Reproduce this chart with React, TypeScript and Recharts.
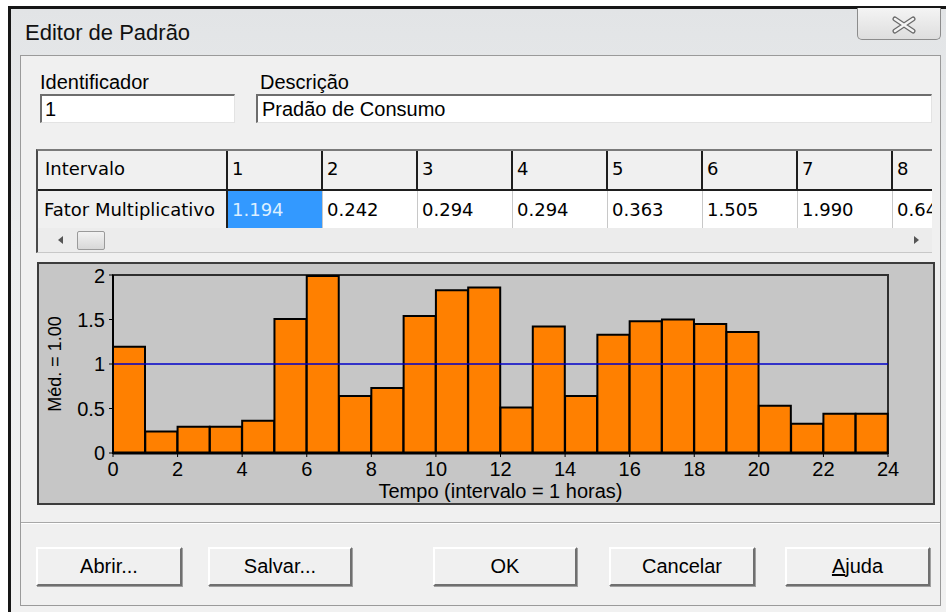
import React from "react";
import { ComposedChart, Bar, XAxis, YAxis, ReferenceLine, ReferenceArea } from "recharts";

// Padrão de consumo - fator por intervalo de 1 hora
const intervalos = ["1", "2", "3", "4", "5", "6", "7", "8", "9", "10", "11", "12",
  "13", "14", "15", "16", "17", "18", "19", "20", "21", "22", "23", "24"];
const fatores = [1.194, 0.242, 0.294, 0.294, 0.363, 1.505, 1.990, 0.640, 0.730, 1.540, 1.830, 1.860,
  0.510, 1.420, 0.640, 1.330, 1.480, 1.500, 1.450, 1.360, 0.530, 0.330, 0.440, 0.440];
const media = 1.0;
const ticksTempo = [0, 2, 4, 6, 8, 10, 12, 14, 16, 18, 20, 22, 24];
const ticksFator = [0, 0.5, 1, 1.5, 2];
const botoes = ["Abrir...", "Salvar...", "OK", "Cancelar", "Ajuda"];

const dados = intervalos.map((intervalo, i) => ({ intervalo, hora: Number(intervalo), fator: fatores[i] }));

const fonte = "'Liberation Sans', Arial, sans-serif";
const fonteTabela = "'DejaVu Sans', Verdana, sans-serif";

// rotulo vertical do eixo Y
const RotuloY = (props: any) => {
  const vb = props.viewBox || { x: 0, y: 0, width: 0, height: 0 };
  const x = vb.x + 16;
  const y = vb.y + vb.height / 2;
  return (
    <text x={x} y={y} transform={`rotate(-90, ${x}, ${y})`} textAnchor="middle"
      dominantBaseline="central" fontSize={18} fill="#000">
      {"Méd. = " + media.toFixed(2)}
    </text>
  );
};

const Botao: React.FC<{ texto: string; left: number; width: number }> = ({ texto, left, width }) => (
  <div style={{
    position: "absolute", left, top: 547, width, height: 39, boxSizing: "border-box",
    background: "#f0f0f0", borderTop: "2px solid #fff", borderLeft: "2px solid #fff",
    borderRight: "2px solid #6f6f6f", borderBottom: "2px solid #6f6f6f",
    boxShadow: "1px 1px 0 #a0a0a0", display: "flex", alignItems: "center", justifyContent: "center",
    fontSize: 20, color: "#000",
  }}>
    {texto === "Ajuda" ? <span><u>A</u>juda</span> : texto}
  </div>
);

const posBotoes = [
  { left: 36, width: 146 },
  { left: 208, width: 144 },
  { left: 433, width: 144 },
  { left: 609, width: 146 },
  { left: 785, width: 145 },
];

export default function App() {
  const colunas = intervalos.slice(0, 8);
  return (
    <div style={{ position: "absolute", left: 0, top: 0, width: 946, height: 615, background: "#fff", overflow: "hidden", fontFamily: fonte }}>
      {/* moldura da janela */}
      <div style={{
        position: "absolute", left: 8, top: 6, width: 940, height: 606, boxSizing: "border-box",
        borderTop: "3px solid #161616", borderLeft: "3px solid #161616",
        background: "linear-gradient(180deg, #e2e4e6 0%, #eceeef 40%, #f1f1f1 100%)",
      }} />
      <div style={{ position: "absolute", left: 25, top: 20, fontSize: 22, color: "#111", lineHeight: "26px" }}>Editor de Padrão</div>
      {/* botao fechar */}
      <div style={{
        position: "absolute", left: 857, top: 8, width: 84, height: 32, boxSizing: "border-box",
        border: "1px solid #8c8c8c", borderTop: "none", borderRadius: "0 0 5px 5px",
        background: "linear-gradient(180deg, #f4f4f4, #dedede)",
      }}>
        <svg width={84} height={32} style={{ position: "absolute", left: -1, top: 0 }}>
          <path d="M38 11 L56 23 M56 11 L38 23" stroke="#6a6a6a" strokeWidth={5} strokeLinecap="round" />
          <path d="M38 11 L56 23 M56 11 L38 23" stroke="#f4f4f4" strokeWidth={2.5} strokeLinecap="round" />
        </svg>
      </div>

      {/* painel interno */}
      <div style={{
        position: "absolute", left: 20, top: 55, width: 921, height: 551, boxSizing: "border-box",
        border: "1px solid #9a9a9a", background: "#f0f0f0",
      }} />

      <div style={{ position: "absolute", left: 40, top: 70, fontSize: 20, lineHeight: "24px" }}>Identificador</div>
      <div style={{ position: "absolute", left: 260, top: 70, fontSize: 20, lineHeight: "24px" }}>Descrição</div>
      <div style={{
        position: "absolute", left: 40, top: 94, width: 195, height: 29, boxSizing: "border-box",
        borderTop: "2px solid #6d6d6d", borderLeft: "2px solid #6d6d6d", borderRight: "1px solid #e3e3e3",
        borderBottom: "1px solid #e3e3e3", background: "#fff", fontSize: 20, lineHeight: "26px", paddingLeft: 3,
      }}>1</div>
      <div style={{
        position: "absolute", left: 256, top: 94, width: 676, height: 29, boxSizing: "border-box",
        borderTop: "2px solid #6d6d6d", borderLeft: "2px solid #6d6d6d", borderRight: "1px solid #e3e3e3",
        borderBottom: "1px solid #e3e3e3", background: "#fff", fontSize: 20, lineHeight: "26px", paddingLeft: 4,
      }}>Pradão de Consumo</div>

      {/* grade de valores */}
      <div style={{
        position: "absolute", left: 36, top: 149, width: 896, height: 104, boxSizing: "border-box",
        borderLeft: "2px solid #4a4a4a", borderTop: "2px solid #7a7a7a", borderBottom: "1px solid #c8c8c8",
        background: "#ececec", overflow: "hidden", fontFamily: fonteTabela, fontSize: 18,
      }}>
        <div style={{ display: "flex", height: 40, whiteSpace: "nowrap" }}>
          <div style={{ flex: "0 0 190px", boxSizing: "border-box", borderRight: "2px solid #1e1e1e", borderBottom: "2px solid #1e1e1e", background: "#f0f0f0", paddingLeft: 7, lineHeight: "36px" }}>Intervalo</div>
          {colunas.map((c) => (
            <div key={c} style={{ flex: "0 0 95px", boxSizing: "border-box", borderRight: "2px solid #1e1e1e", borderBottom: "2px solid #1e1e1e", background: "#f0f0f0", paddingLeft: 4, lineHeight: "36px" }}>{c}</div>
          ))}
        </div>
        <div style={{ display: "flex", height: 37, whiteSpace: "nowrap" }}>
          <div style={{ flex: "0 0 190px", boxSizing: "border-box", borderRight: "2px solid #1e1e1e", background: "#f0f0f0", paddingLeft: 6, lineHeight: "37px" }}>Fator Multiplicativo</div>
          {colunas.map((c, i) => (
            <div key={c} style={{
              flex: "0 0 95px", boxSizing: "border-box", borderRight: "1px solid #c8c8c8",
              background: i === 0 ? "#3399ff" : "#fff", color: i === 0 ? "#dcefff" : "#000",
              paddingLeft: 4, lineHeight: "37px", overflow: "hidden",
            }}>{fatores[i].toFixed(3)}</div>
          ))}
        </div>
        {/* barra de rolagem */}
        <div style={{ position: "relative", height: 25 }}>
          <svg width={10} height={10} style={{ position: "absolute", left: 18, top: 7 }}>
            <path d="M7 1 L2 5 L7 9 Z" fill="#555" />
          </svg>
          <div style={{ position: "absolute", left: 39, top: 3, width: 28, height: 19, boxSizing: "border-box", border: "1px solid #9a9a9a", borderRadius: 2, background: "linear-gradient(180deg,#f2f2f2,#d8d8d8)" }} />
          <svg width={10} height={10} style={{ position: "absolute", left: 873, top: 7 }}>
            <path d="M3 1 L8 5 L3 9 Z" fill="#555" />
          </svg>
        </div>
      </div>

      {/* grafico */}
      <div style={{
        position: "absolute", left: 37, top: 262, width: 898, height: 243, boxSizing: "border-box",
        border: "2px solid #3c3c3c", background: "#c6c6c6",
      }}>
        <ComposedChart width={894} height={239} data={dados} barCategoryGap={0}
          margin={{ top: 11, right: 45, left: 0, bottom: 0 }}>
          <XAxis xAxisId="num" dataKey="hora" type="number" domain={[0, 24]} ticks={ticksTempo} allowDataOverflow
            height={50} tickSize={4} tickMargin={5}
            axisLine={{ stroke: "#000", strokeWidth: 3 }} tickLine={{ stroke: "#000" }}
            tick={{ fill: "#000", fontSize: 20 }}
            label={{ value: "Tempo (intervalo = 1 horas)", position: "insideBottom", offset: 5, fill: "#000", fontSize: 20 }} />
          <XAxis xAxisId="cat" dataKey="intervalo" hide height={0} />
          <YAxis domain={[0, 2]} ticks={ticksFator} width={74} tickSize={4} tickMargin={4}
            axisLine={{ stroke: "#000", strokeWidth: 2 }} tickLine={{ stroke: "#000" }}
            tick={{ fill: "#000", fontSize: 20 }} label={<RotuloY />} />
          <ReferenceArea xAxisId="num" x1={0} x2={24} y1={0} y2={2} fill="none" stroke="#2e2e2e" strokeWidth={2} />
          <Bar xAxisId="cat" dataKey="fator" fill="#ff8000" stroke="#000" strokeWidth={2} isAnimationActive={false} />
          <ReferenceLine xAxisId="num" y={media} stroke="#0000c8" strokeWidth={1.5} />
        </ComposedChart>
      </div>

      {/* separador */}
      <div style={{ position: "absolute", left: 21, top: 522, width: 919, height: 0, borderTop: "1px solid #a8a8a8", borderBottom: "1px solid #fff" }} />

      {botoes.map((b, i) => (
        <Botao key={b} texto={b} left={posBotoes[i].left} width={posBotoes[i].width} />
      ))}
    </div>
  );
}
